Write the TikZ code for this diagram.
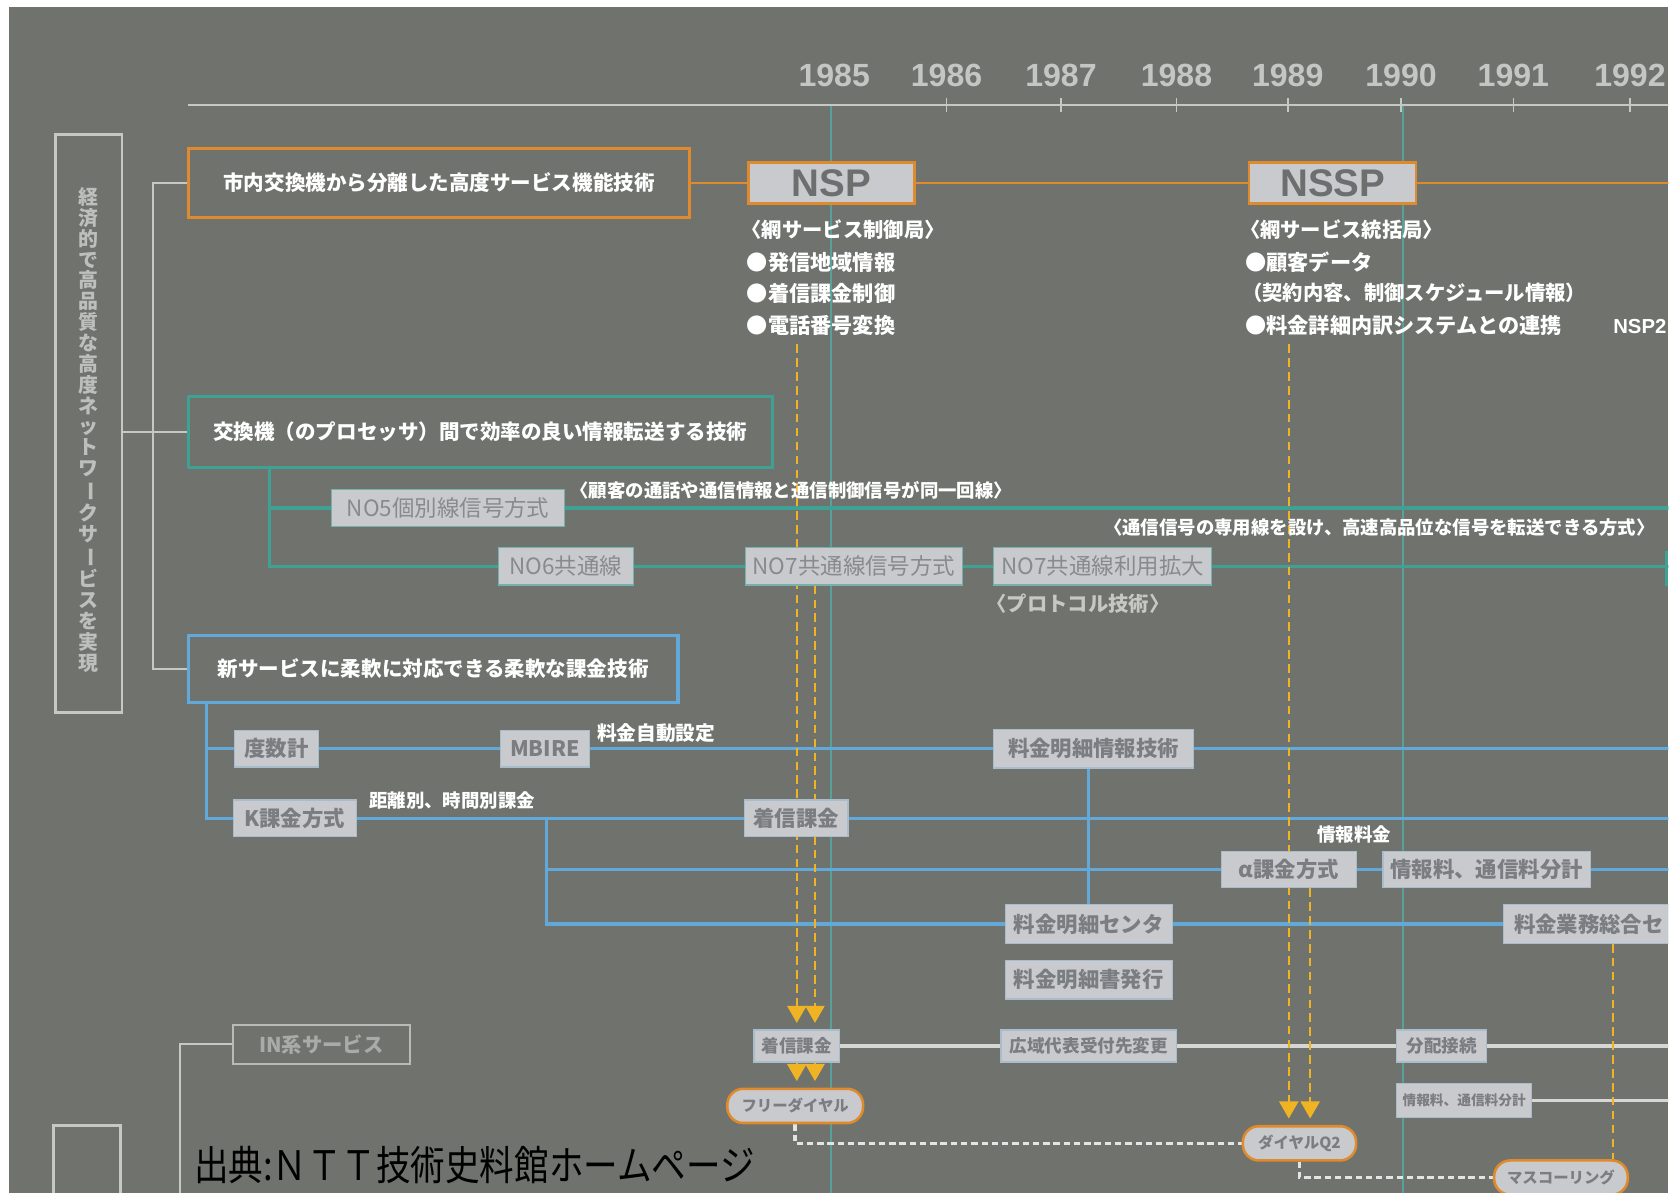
\documentclass[tikz,border=0pt]{standalone}
\usepackage{fontspec}
\usepackage{graphicx}
\usetikzlibrary{arrows.meta}
\newfontfamily\jp{Noto Sans CJK JP}
\newfontfamily\lat{Liberation Sans}
\definecolor{bgc}{HTML}{6F726D}
\definecolor{lgrey}{HTML}{C6C8C4}
\definecolor{yearc}{HTML}{C4C6C3}
\definecolor{orangec}{HTML}{E08A2E}
\definecolor{tealc}{HTML}{3FA094}
\definecolor{bluec}{HTML}{62A8D8}
\definecolor{boxfill}{HTML}{C8CACE}
\definecolor{boxtext}{HTML}{7A7D81}
\definecolor{boxedge}{HTML}{A8BCCB}
\definecolor{nsptext}{HTML}{6C6F6E}
\definecolor{yel}{HTML}{F0B323}
\definecolor{dotc}{HTML}{E4E4E2}
\definecolor{gridc}{HTML}{58A09A}
\definecolor{vtc}{HTML}{BEBFBC}
\definecolor{inrowc}{HTML}{D6D7D4}
\definecolor{intext}{HTML}{A9ABA8}
\pgfdeclarelayer{back}
\pgfdeclarelayer{lines}
\pgfsetlayers{back,lines,main}
\newcommand\boxnode[7]{\node[#6,inner sep=0pt,minimum width={(#4-#2)*0.5pt},minimum height={(#5-#3)*0.5pt}] (#1) at ({(#2+#4)/2},{(#3+#5)/2}) {#7};}
\newcommand\vch{\rotatebox[origin=c]{-90}{ー}}
\tikzset{
 catbox/.style={draw=#1,line width=1.5pt,text=white,font=\jp\bfseries\fontsize{9.6}{11}\selectfont},
 gbox/.style={fill=boxfill,draw=boxedge,line width=0.6pt,text=boxtext,font=\jp\bfseries\fontsize{10}{12}\selectfont},
 tbox/.style={gbox,draw=tealc!60!boxfill,text=boxtext!90!white,font=\jp\fontsize{10.5}{12}\selectfont},
 sbox/.style={gbox,font=\jp\bfseries\fontsize{8.2}{10}\selectfont},
 tinybox/.style={gbox,font=\jp\bfseries\fontsize{6.4}{8}\selectfont},
 nbox/.style={fill=boxfill,draw=orangec,line width=1.2pt,text=nsptext,font=\lat\bfseries\fontsize{18}{20}\selectfont},
 pill/.style={fill=boxfill,draw=orangec,line width=1.2pt,rounded corners=7.5pt,text=boxtext,font=\jp\bfseries\fontsize{7.2}{9}\selectfont},
 lframe/.style={draw=lgrey,line width=1.3pt},
 inframe/.style={draw=lgrey!85!bgc,line width=1pt,text=intext,font=\jp\bfseries\fontsize{9.5}{11}\selectfont},
 wtxt/.style={anchor=west,inner sep=0pt,text=white,font=\jp\bfseries\fontsize{9.5}{11}\selectfont},
 btxt/.style={wtxt,font=\jp\bfseries\fontsize{9.9}{11}\selectfont},
 stxt/.style={wtxt,font=\jp\bfseries\fontsize{8.6}{10}\selectfont},
 gtxt/.style={wtxt,text=lgrey},
 yeartxt/.style={text=yearc,inner sep=0pt,font=\lat\bfseries\fontsize{15}{16}\selectfont},
 gline/.style={draw=lgrey,line width=1pt},
 tick/.style={draw=lgrey,line width=0.8pt},
 gridv/.style={draw=gridc,line width=0.7pt},
 oline/.style={draw=orangec,line width=1.3pt},
 tline/.style={draw=tealc,line width=1.5pt},
 bline/.style={draw=bluec,line width=1.5pt},
 inrow/.style={draw=inrowc,line width=1.5pt},
 ydash/.style={draw=yel,line width=0.8pt,dash pattern=on 4pt off 2.5pt},
 yarr/.style={ydash,-{Triangle[length=8pt,width=9pt]},shorten >=3pt},
 wdot/.style={draw=dotc,line width=1.6pt,dash pattern=on 3pt off 1.8pt}
}
\begin{document}
\begin{tikzpicture}[x=0.5pt,y=-0.5pt]
\useasboundingbox (0,0) rectangle (1568,1115);
\begin{pgfonlayer}{back}
 \fill[white] (0,0) rectangle (1568,1115);
 \fill[bgc] (8,7) rectangle (1560,1115);
\end{pgfonlayer}

\begin{scope}
\clip (8,7) rectangle (1560,1115);
% helper coordinates
\coordinate (R) at (1562,0);
\coordinate (B) at (0,1118);
\coordinate (tlL) at (176,98);
\coordinate (tlR) at (1562,98);
\coordinate (g85) at (777,98);
\coordinate (g90) at (1312,98);
\coordinate (brA) at (143,0);
\coordinate (brB) at (168,0);
\coordinate (tv) at (252,0);
\coordinate (tk) at (1558,515);
\coordinate (bv1) at (193,0);
\coordinate (bv2) at (511,0);
\coordinate (ya) at (745,322);
\coordinate (yb) at (762,0);
\coordinate (yc) at (1205,322);
\coordinate (yd) at (1225,0);
\coordinate (ye) at (1508,0);

% years
\node[yeartxt] (y85) at (780,71) {1985};
\node[yeartxt] (y86) at (885,71) {1986};
\node[yeartxt] (y87) at (992,71) {1987};
\node[yeartxt] (y88) at (1100,71) {1988};
\node[yeartxt] (y89) at (1204,71) {1989};
\node[yeartxt] (y90) at (1310,71) {1990};
\node[yeartxt] (y91) at (1415,71) {1991};
\node[yeartxt] (y92) at (1524,71) {1992};

% left frames
\boxnode{lbox}{52}{126}{114}{666}{lframe}{}
\node[inner sep=0pt,align=center,text=vtc,font=\jp\bfseries\fontsize{9.3}{9.75}\selectfont] (vt) at (83,402)
 {経\\済\\的\\で\\高\\品\\質\\な\\高\\度\\ネ\\ッ\\ト\\ワ\\\vch\\ク\\サ\\\vch\\ビ\\ス\\を\\実\\現};
\boxnode{lbox2}{50}{1052}{113}{1135}{lframe}{}

% category boxes
\boxnode{cat1}{176}{139}{645}{203}{catbox=orangec}{市内交換機から分離した高度サービス機能技術}
\boxnode{cat2}{176}{371}{722}{437}{catbox=tealc}{交換機（のプロセッサ）間で効率の良い情報転送する技術}
\boxnode{cat3}{176}{594}{634}{657}{catbox=bluec}{新サービスに柔軟に対応できる柔軟な課金技術}

% NSP / NSSP
\boxnode{nsp}{700}{152}{855}{190}{nbox}{NSP}
\boxnode{nssp}{1168}{152}{1324}{190}{nbox}{NSSP}
\node[wtxt] (n1) at (693,215) {〈網サービス制御局〉};
\node[btxt] (n2) at (698,245) {●発信地域情報};
\node[btxt] (n3) at (698,274) {●着信課金制御};
\node[btxt] (n4) at (698,304) {●電話番号変換};
\node[wtxt] (s1) at (1159,215) {〈網サービス統括局〉};
\node[btxt] (s2) at (1164,245) {●顧客データ};
\node[wtxt] (s3) at (1161,274) {（契約内容、制御スケジュール情報）};
\node[btxt] (s4) at (1164,304) {●料金詳細内訳システムとの連携};
\node[wtxt,font=\lat\bfseries\fontsize{9.5}{11}\selectfont] (nsp2) at (1508,305) {NSP2};

% signalling rows
\boxnode{no5}{310}{458}{528}{492}{tbox}{NO5個別線信号方式}
\boxnode{no6}{466}{512}{592}{547}{tbox}{NO6共通線}
\boxnode{no7}{697}{512}{900}{547}{tbox}{NO7共通線信号方式}
\boxnode{no7x}{929}{512}{1133}{547}{tbox}{NO7共通線利用拡大}
\node[stxt] (a1) at (533,458) {〈顧客の通話や通信情報と通信制御信号が同一回線〉};
\node[stxt] (a2) at (1032,493) {〈通信信号の専用線を設け、高速高品位な信号を転送できる方式〉};
\node[gtxt] (a3) at (922,564) {〈プロトコル技術〉};

% charging rows
\boxnode{dosu}{219}{683}{298}{717}{gbox}{度数計}
\boxnode{mbire}{468}{683}{551}{717}{gbox}{MBIRE}
\boxnode{meisai}{929}{682}{1116}{718}{gbox}{料金明細情報技術}
\boxnode{kk}{218}{748}{333}{782}{gbox}{K課金方式}
\boxnode{chak}{696}{748}{793}{782}{gbox}{着信課金}
\boxnode{alpha}{1142}{796}{1268}{830}{gbox}{α課金方式}
\boxnode{joho}{1293}{796}{1487}{830}{gbox}{情報料、通信料分計}
\boxnode{mcent}{940}{846}{1096}{882}{gbox}{料金明細センタ}
\boxnode{hakko}{940}{898}{1096}{934}{gbox}{料金明細書発行}
\node[gbox,anchor=west,inner xsep=5pt,inner ysep=0pt,minimum height=18pt,text width=95pt,align=left] (sogo) at (1405,864) {料金業務総合セ};
\node[stxt,font=\jp\bfseries\fontsize{9.2}{11}\selectfont] (a4) at (558,685) {料金自動設定};
\node[stxt] (a5) at (345,748) {距離別、時間別課金};
\node[stxt,anchor=center] (a6) at (1266,780) {情報料金};

% IN services
\boxnode{inb}{218}{958}{383}{995}{inframe}{IN系サービス}
\boxnode{chak2}{705}{963}{785}{993}{sbox}{着信課金}
\boxnode{kouiki}{936}{963}{1100}{993}{sbox}{広域代表受付先変更}
\boxnode{bunpai}{1306}{963}{1390}{993}{sbox}{分配接続}
\boxnode{joho2}{1306}{1013}{1432}{1045}{tinybox}{情報料、通信料分計}
\boxnode{free}{680}{1018}{807}{1050}{pill}{フリーダイヤル}
\boxnode{q2}{1162}{1053}{1268}{1085}{pill}{ダイヤルQ2}
\boxnode{mass}{1397}{1085}{1522}{1117}{pill}{マスコーリング}

% caption
\node[anchor=west,inner sep=0pt,text=black,font=\jp\fontsize{19}{21}\selectfont] (cap) at (181,1089) {\scalebox{0.85}[1]{出典:ＮＴＴ技術史料館ホームページ}};
\end{scope}

\begin{pgfonlayer}{lines}
\begin{scope}
\clip (8,7) rectangle (1560,1115);
% timeline
\draw[gridv] (g85) -- (g85 |- B);
\draw[gridv] (g90) -- (g90 |- B);
\draw[gline] (tlL) -- (tlR);
\foreach \y in {y86,y87,y88,y89,y90,y91,y92}{
 \draw[tick] (\y |- tlL) ++(0,-6) -- ++(0,13);
}
% brackets
\draw[gline] (cat1.west) -- (brA |- cat1.west) -- (brA |- cat3.west) -- (cat3.west);
\draw[gline] (lbox.east |- cat2.west) -- (cat2.west);
\draw[gline] (inb.west) -- (brB |- inb.west) -- (brB |- B);
% orange row
\draw[oline] (cat1.east) -- (nsp.west);
\draw[oline] (nsp.east) -- (nssp.west);
\draw[oline] (nssp.east) -- (nssp.east -| R);
% teal rows
\draw[tline] (tv |- cat2.south) -- (tv |- no6.west) -- (no6.west);
\draw[tline] (tv |- no5.west) -- (no5.west);
\draw[tline] (no5.east) -- (no5.east -| R);
\draw[tline] (no6.east) -- (no7.west);
\draw[tline] (no7.east) -- (no7x.west);
\draw[tline] (no7x.east) -- (no7x.east -| R);
\draw[tline] (tk) -- (tk |- no7x.south);
% blue rows
\draw[bline] (bv1 |- cat3.south) -- (bv1 |- kk.west) -- (kk.west);
\draw[bline] (bv1 |- dosu.west) -- (dosu.west);
\draw[bline] (dosu.east) -- (mbire.west);
\draw[bline] (mbire.east) -- (meisai.west);
\draw[bline] (meisai.east) -- (meisai.east -| R);
\draw[bline] (kk.east) -- (chak.west);
\draw[bline] (chak.east) -- (chak.east -| R);
\draw[bline] (bv2 |- kk.east) -- (bv2 |- mcent.west) -- (mcent.west);
\draw[bline] (bv2 |- alpha.west) -- (alpha.west);
\draw[bline] (alpha.east) -- (joho.west);
\draw[bline] (joho.east) -- (joho.east -| R);
\draw[bline] (mcent.east) -- (sogo.west);
\draw[bline] (meisai.south -| mcent.north) -- (mcent.north);
% IN row
\draw[inrow] (chak2.east) -- (kouiki.west);
\draw[inrow] (kouiki.east) -- (bunpai.west);
\draw[inrow] (bunpai.east) -- (bunpai.east -| R);
\draw[inrow] (joho2.east) -- (joho2.east -| R);
% yellow dashed arrows
\draw[yarr] (ya) -- (ya |- chak2.north);
\draw[yarr] (yb |- no7.south) -- (yb |- chak2.north);
\draw[yarr] (ya |- chak2.south) -- (ya |- free.north);
\draw[yarr] (yb |- chak2.south) -- (yb |- free.north);
\draw[yarr] (yc) -- (yc |- q2.north);
\draw[yarr] (yd |- alpha.south) -- (yd |- q2.north);
\draw[ydash] (ye |- sogo.south) -- (ye |- mass.north);
% white dotted
\draw[wdot] (free.south) |- (q2.west);
\draw[wdot] (q2.south) |- (mass.west);
\end{scope}
\end{pgfonlayer}
\end{tikzpicture}
\end{document}
